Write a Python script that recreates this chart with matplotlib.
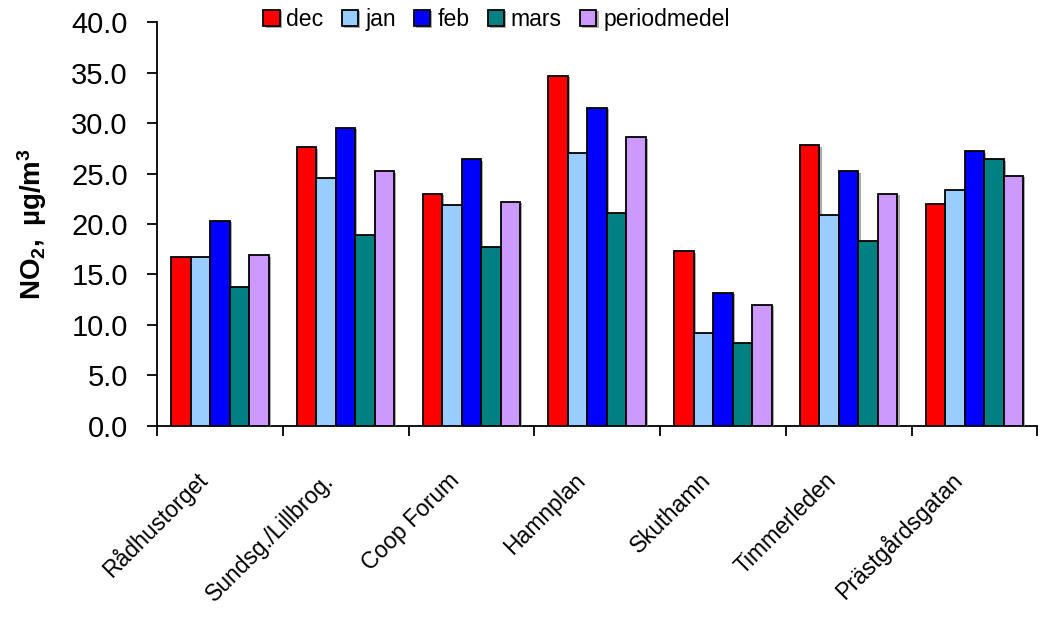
import numpy as np
import matplotlib
matplotlib.use('Agg')
import matplotlib.pyplot as plt
import matplotlib.patheffects as pe
from matplotlib.transforms import ScaledTranslation

plt.rcParams['font.family'] = ['Liberation Sans', 'DejaVu Sans']
plt.rcParams['mathtext.fontset'] = 'custom'
plt.rcParams['mathtext.rm'] = 'Liberation Sans'
plt.rcParams['mathtext.bf'] = 'Liberation Sans:bold'

stations = ['Rådhustorget', 'Sundsg./Lillbrog.', 'Coop Forum', 'Hamnplan',
            'Skuthamn', 'Timmerleden', 'Prästgårdsgatan']
months = ['dec', 'jan', 'feb', 'mars', 'periodmedel']
dec = [16.7, 27.6, 23.0, 34.7, 17.3, 27.8, 22.0]
jan = [16.7, 24.6, 21.9, 27.0, 9.2, 20.9, 23.4]
feb = [20.3, 29.5, 26.4, 31.5, 13.2, 25.2, 27.2]
mars = [13.8, 18.9, 17.7, 21.1, 8.2, 18.3, 26.4]
periodmedel = [16.9, 25.2, 22.2, 28.6, 12.0, 23.0, 24.8]
colors = ['#ff0000', '#99ccff', '#0000ff', '#008080', '#cc99ff']

series = [dec, jan, feb, mars, periodmedel]

fig = plt.figure(figsize=(10.5, 6.17), dpi=100)
ax = fig.add_axes([0.1495, 0.3096, 0.8385, 0.6547])

x = np.arange(len(stations))
w = 0.155
shadow = [pe.SimplePatchShadow(offset=(1.5, -1), shadow_rgbFace='#888888',
                               alpha=0.7), pe.Normal()]
for k, vals in enumerate(series):
    ax.bar(x + (k - 2) * w, vals, w, color=colors[k], edgecolor='black',
           linewidth=1.3, label=months[k], zorder=3, path_effects=shadow)

ax.set_xlim(-0.5, len(stations) - 0.5)
ax.set_ylim(0, 40)
ax.set_yticks(np.arange(0, 41, 5))
ax.set_yticklabels(['%.1f' % v for v in np.arange(0, 41, 5)], fontsize=21)
ax.tick_params(axis='y', direction='out', length=7, width=1.3, pad=14)

# category boundaries carry the ticks, labels sit at the centres
ax.set_xticks(np.arange(-0.5, len(stations)), minor=True)
ax.tick_params(axis='x', which='minor', direction='out', length=7, width=1.3)
ax.set_xticks(x)
ax.set_xticklabels(stations, fontsize=16.5, rotation=45, ha='right',
                   va='baseline', rotation_mode='anchor')
ax.tick_params(axis='x', which='major', length=0, pad=40)
shift = ScaledTranslation(-0.11, 0, fig.dpi_scale_trans)
for lab in ax.get_xticklabels():
    lab.set_transform(lab.get_transform() + shift)

for s in ['top', 'right']:
    ax.spines[s].set_visible(False)
for s in ['left', 'bottom']:
    ax.spines[s].set_linewidth(1.3)

ax.set_ylabel(r'$\mathbf{NO_2,}$ $\mathbf{µg/m^3}$', fontsize=20, labelpad=16)

fig.legend(*ax.get_legend_handles_labels(), loc='center',
           bbox_to_anchor=(0.473, 0.968), ncol=5, frameon=False,
           fontsize=16.6, handlelength=0.7, handleheight=0.7,
           handletextpad=0.3, columnspacing=0.8)

fig.savefig('out.png', dpi=100)
